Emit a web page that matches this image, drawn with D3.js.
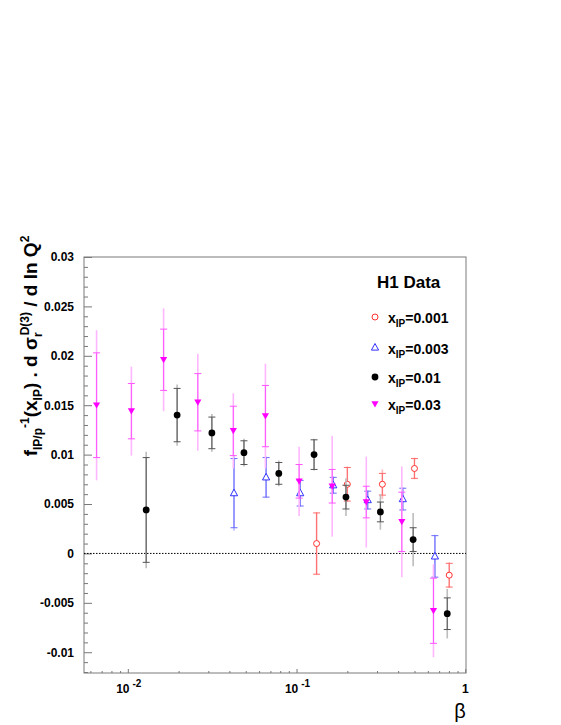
<!DOCTYPE html>
<html>
<head>
<meta charset="utf-8">
<script src="https://cdn.jsdelivr.net/npm/d3@7"></script>
<style>
  body { margin: 0; background: #fff; }
  text { font-family: "Liberation Sans", Arial, sans-serif; }
</style>
</head>
<body>
<script>
// H1 diffractive data, d sigma / d ln Q2 vs beta

// x_IP = 0.001 (red open circles)
var beta001 = [0.1315, 0.2, 0.3226, 0.5, 0.8035];
var val001  = [0.0010, 0.0070, 0.0070, 0.0086, -0.0022];
var stat001 = [0.0031, 0.0017, 0.0011, 0.0010, 0.0012];
var tot001  = [0.0032, 0.0018, 0.0015, 0.0011, 0.0013];

// x_IP = 0.003 (blue open triangles)
var beta003 = [0.0426, 0.066, 0.1051, 0.165, 0.2642, 0.4264, 0.661];
var val003  = [0.0061, 0.0077, 0.0061, 0.0069, 0.0054, 0.0055, -0.0003];
var stat003 = [0.0035, 0.0020, 0.0013, 0.0008, 0.0009, 0.0011, 0.0021];
var tot003  = [0.0038, 0.0021, 0.0014, 0.0009, 0.0010, 0.0012, 0.0022];

// x_IP = 0.01 (black dots)
var beta01 = [0.01285, 0.0196, 0.0315, 0.0488, 0.0785, 0.127, 0.1963, 0.314, 0.491, 0.782];
var val01  = [0.0044, 0.0140, 0.0122, 0.0102, 0.0081, 0.0100, 0.0057, 0.0042, 0.0014, -0.0061];
var stat01 = [0.0053, 0.0027, 0.0016, 0.0012, 0.0011, 0.0015, 0.0012, 0.0010, 0.0012, 0.0016];
var tot01  = [0.0059, 0.0031, 0.0019, 0.0014, 0.0013, 0.0016, 0.0019, 0.0018, 0.0027, 0.0025];

// x_IP = 0.03 (magenta down triangles)
var beta03 = [0.00653, 0.0105, 0.0163, 0.026, 0.0422, 0.0654, 0.1036, 0.1627, 0.259, 0.4207, 0.648];
var val03  = [0.0150, 0.0144, 0.0196, 0.0153, 0.0124, 0.0139, 0.0073, 0.0068, 0.0052, 0.0032, -0.0058];
var stat03 = [0.0053, 0.0028, 0.0031, 0.0029, 0.0025, 0.0031, 0.0017, 0.0017, 0.0016, 0.0030, 0.0033];
var tot03  = [0.0076, 0.0045, 0.0052, 0.0049, 0.0038, 0.0053, 0.0035, 0.0051, 0.0046, 0.0056, 0.0047];

var legendLabels = ["0.001", "0.003", "0.01", "0.03"];
var yTicks = [-0.01, -0.005, 0, 0.005, 0.01, 0.015, 0.02, 0.025, 0.03];
var xTicks = [0.01, 0.1, 1];

// set up
var outerWidth = 561,
    outerHeight = 725,
    frameL = 84, frameR = 466, frameT = 257, frameB = 673;

var x = d3.scaleLog()
    .domain([0.0055, 1.01])
    .range([frameL, frameR]);

var y = d3.scaleLinear()
    .domain([-0.0121, 0.03])
    .range([frameB, frameT]);

var svg = d3.select("body")
    .append("svg")
    .attr("width", outerWidth)
    .attr("height", outerHeight);

// series descriptions
var series = [
    { beta: beta001, val: val001, stat: stat001, tot: tot001, shape: "circle",  col: "#ff3030", inner: "#ff6a6a", outer: "#ffb8b8" },
    { beta: beta003, val: val003, stat: stat003, tot: tot003, shape: "triUp",   col: "#3030ff", inner: "#6a6aff", outer: "#bcbcff" },
    { beta: beta01,  val: val01,  stat: stat01,  tot: tot01,  shape: "dot",     col: "#000000", inner: "#555555", outer: "#bdbdbd" },
    { beta: beta03,  val: val03,  stat: stat03,  tot: tot03,  shape: "triDown", col: "#ff00ff", inner: "#ff55ff", outer: "#ffb8ff" }
];

// y minor ticks
var yMinor = d3.range(-12, 31).map(function(i) { return i / 1000; })
    .filter(function(v) { return Math.round(v * 1000) % 5 != 0; });

svg.append("g")
    .attr("transform", "translate(" + frameL + ",0)")
    .call(d3.axisLeft(y).tickValues(yMinor).tickSize(-4).tickFormat(""))
    .call(function(g) { g.select(".domain").remove(); })
    .selectAll("line").attr("stroke", "#777");

svg.append("g")
    .attr("transform", "translate(" + frameL + ",0)")
    .call(d3.axisLeft(y).tickValues(yTicks).tickSize(-8).tickPadding(10)
        .tickFormat(function(d) { return String(+d.toFixed(3)); }))
    .call(function(g) { g.select(".domain").remove(); })
    .call(function(g) {
        g.selectAll("line").attr("stroke", "#777");
        g.selectAll("text")
            .attr("font-family", "Liberation Sans, Arial, sans-serif")
            .attr("font-size", "12px")
            .attr("font-weight", "700")
            .attr("fill", "#000");
    });

// x ticks
var xMinor = [];
[0.001, 0.01, 0.1].forEach(function(dec) {
    for (var k = 2; k <= 9; k++) {
        var v = k * dec;
        if (v >= 0.0055 && v <= 1) xMinor.push(v);
    }
});

svg.append("g")
    .attr("transform", "translate(0," + frameB + ")")
    .call(d3.axisBottom(x).tickValues(xMinor).tickSize(-2).tickFormat(""))
    .call(function(g) { g.select(".domain").remove(); })
    .selectAll("line").attr("stroke", "#777");

svg.append("g")
    .attr("transform", "translate(0," + frameB + ")")
    .call(d3.axisBottom(x).tickValues(xTicks).tickSize(-4).tickFormat(""))
    .call(function(g) { g.select(".domain").remove(); })
    .selectAll("line").attr("stroke", "#777");

// x tick labels with exponents
var xLab = svg.append("g");
xTicks.forEach(function(t) {
    var txt = xLab.append("text")
        .attr("x", x(t) + (t == 1 ? 0 : 1))
        .attr("y", 693)
        .attr("text-anchor", "middle")
        .attr("font-size", "12px")
        .attr("font-weight", "700");
    if (t == 1) {
        txt.text("1");
    } else {
        txt.append("tspan").text("10");
        txt.append("tspan")
            .attr("dx", 3)
            .attr("dy", -6)
            .attr("font-size", "10px")
            .text(String(Math.round(Math.log10(t))));
    }
});

// frame
svg.append("rect")
    .attr("x", frameL)
    .attr("y", frameT)
    .attr("width", frameR - frameL)
    .attr("height", frameB - frameT)
    .attr("fill", "none")
    .attr("stroke", "#7a7a7a")
    .attr("stroke-width", 1);

// zero line
svg.append("line")
    .attr("x1", frameL)
    .attr("x2", frameR)
    .attr("y1", y(0))
    .attr("y2", y(0))
    .attr("stroke", "#000")
    .attr("stroke-width", 1)
    .attr("stroke-dasharray", "1.5,1.5");

// marker shapes
function marker(sel, shape, col) {
    if (shape == "circle") {
        sel.append("circle").attr("r", 3).attr("fill", "#fff")
            .attr("stroke", col).attr("stroke-width", 1);
    } else if (shape == "dot") {
        sel.append("circle").attr("r", 3.4).attr("fill", col);
    } else if (shape == "triUp") {
        sel.append("path").attr("d", "M0,-4L3.6,2.6L-3.6,2.6Z")
            .attr("fill", "#fff").attr("stroke", col).attr("stroke-width", 1);
    } else {
        sel.append("path").attr("d", "M0,3.4L3.6,-2.8L-3.6,-2.8Z")
            .attr("fill", col);
    }
}

// error bars and points
series.forEach(function(s) {
    var data = s.beta.map(function(b, i) {
        return { b: b, v: s.val[i], st: s.stat[i], tt: s.tot[i] };
    });
    var g = svg.append("g");

    // total errors: light line
    g.selectAll(".tot")
        .data(data)
        .enter()
        .append("line")
        .attr("x1", function(d) { return x(d.b); })
        .attr("x2", function(d) { return x(d.b); })
        .attr("y1", function(d) { return y(d.v + d.tt); })
        .attr("y2", function(d) { return y(d.v - d.tt); })
        .attr("stroke", s.outer)
        .attr("stroke-width", 1.6);

    // stat errors
    g.selectAll(".stat")
        .data(data)
        .enter()
        .append("line")
        .attr("x1", function(d) { return x(d.b); })
        .attr("x2", function(d) { return x(d.b); })
        .attr("y1", function(d) { return y(d.v + d.st); })
        .attr("y2", function(d) { return y(d.v - d.st); })
        .attr("stroke", s.inner)
        .attr("stroke-width", 1);

    // end ticks on stat errors
    [1, -1].forEach(function(sg) {
        g.selectAll(".cap" + sg)
            .data(data)
            .enter()
            .append("line")
            .attr("x1", function(d) { return x(d.b) - 3.5; })
            .attr("x2", function(d) { return x(d.b) + 3.5; })
            .attr("y1", function(d) { return y(d.v + sg * d.st); })
            .attr("y2", function(d) { return y(d.v + sg * d.st); })
            .attr("stroke", s.inner)
            .attr("stroke-width", 1);
    });

    g.selectAll(".pt")
        .data(data)
        .enter()
        .append("g")
        .attr("transform", function(d) { return "translate(" + x(d.b) + "," + y(d.v) + ")"; })
        .each(function() { marker(d3.select(this), s.shape, s.col); });
});

// legend
svg.append("text")
    .attr("x", 377)
    .attr("y", 288)
    .attr("font-size", "17px")
    .attr("font-weight", "700")
    .text("H1 Data");

var legY = [317, 347.5, 377, 404];
series.forEach(function(s, i) {
    var lg = svg.append("g")
        .attr("transform", "translate(375," + legY[i] + ")");
    marker(lg, s.shape, s.col);
    var t = svg.append("text")
        .attr("x", 388)
        .attr("y", legY[i] + 6)
        .attr("font-size", "14px")
        .attr("font-weight", "700");
    t.append("tspan").text("x");
    t.append("tspan").attr("dy", 4).attr("font-size", "10px").text("IP");
    t.append("tspan").attr("dy", -4).text("=" + legendLabels[i]);
});

// y axis title
var yt = svg.append("text")
    .attr("transform", "translate(37,346) rotate(-90)")
    .attr("text-anchor", "middle")
    .attr("font-size", "19px")
    .attr("font-weight", "700");
yt.append("tspan").text("f");
yt.append("tspan").attr("dy", 5).attr("font-size", "12px").text("IP/p");
yt.append("tspan").attr("dy", -13).attr("font-size", "12px").text("-1");
yt.append("tspan").attr("dy", 8).text("(x");
yt.append("tspan").attr("dy", 5).attr("font-size", "12px").text("IP");
yt.append("tspan").attr("dy", -5).text(") . d \u03c3");
yt.append("tspan").attr("dy", 5).attr("font-size", "12px").text("r");
yt.append("tspan").attr("dx", -3).attr("dy", -13).attr("font-size", "12px").text("D(3)");
yt.append("tspan").attr("dy", 8).text(" / d ln Q");
yt.append("tspan").attr("dy", -8).attr("font-size", "12px").text("2");

// x axis title
svg.append("text")
    .attr("x", 460)
    .attr("y", 718)
    .attr("text-anchor", "middle")
    .attr("font-family", "DejaVu Sans, sans-serif")
    .attr("font-size", "20px")
    .text("\u03b2");
</script>
</body>
</html>
